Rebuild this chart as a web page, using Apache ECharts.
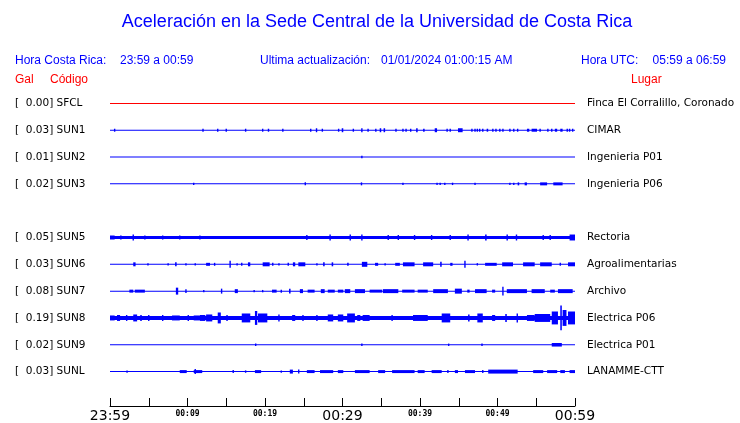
<!DOCTYPE html>
<html><head><meta charset="utf-8">
<script src="https://cdn.jsdelivr.net/npm/echarts@6/dist/echarts.min.js"></script>
<style>html,body{margin:0;padding:0;background:#fff}#c{width:740px;height:423px}</style>
</head><body><div id="c"></div>
<script>
// ---- data ----
const codes = ['SFCL','SUN1','SUN2','SUN3','','SUN5','SUN6','SUN7','SUN8','SUN9','SUNL'];
const galValues = ['0.00','0.03','0.01','0.02','','0.05','0.03','0.08','0.19','0.02','0.03'];
const places = ['Finca El Corralillo, Coronado','CIMAR','Ingenieria P01','Ingenieria P06','','Rectoria','Agroalimentarias','Archivo','Electrica P06','Electrica P01','LANAMME-CTT'];
const baseAmp = [0,0,0,0,0,1.6,0,0,2,0,0];      // background noise level (trace units)
const timeTicks = ['23:59','','00:09','','00:19','','00:29','','00:39','','00:49','','00:59'];
const majorTickLabels = ['23:59','00:29','00:59'];
// events: [startMinute, endMinute, amplitude]
const evSFCL = [];
const evSUN1 = [[0.6,0.6,1.5],[12.0,12.0,1.5],[13.9,13.9,1.5],[15.0,15.0,1.5],[17.5,17.5,1.5],[19.7,19.7,1.5],[20.4,20.5,1.5],[22.3,22.3,1.5],[25.9,25.9,1.5],[26.6,26.7,2],[27.4,27.4,1.5],[29.5,29.5,1.5],[29.9,30.1,2],[31.4,31.4,1.5],[32.5,32.5,2],[33.3,33.3,1.5],[34.3,34.3,1.5],[34.8,35.0,2],[35.3,35.5,2],[36.9,36.9,1.5],[37.8,37.8,1.5],[38.2,38.2,1.5],[38.8,38.8,1.5],[39.5,39.7,2],[40.4,40.6,1.5],[41.9,42.2,2],[43.5,43.5,1.5],[43.9,43.9,1.5],[44.9,45.5,2],[46.7,46.7,1.5],[47.1,47.1,1.5],[47.4,47.4,1.5],[47.7,47.7,1.5],[48.1,48.1,1.5],[48.6,48.8,1.5],[49.4,49.4,1.5],[49.8,49.8,1.5],[50.3,50.3,1.5],[50.7,50.7,1.5],[51.6,51.6,1.5],[52.1,52.1,1.5],[52.6,52.6,1.5],[53.8,54.1,1.5],[54.4,55.1,1.5],[55.5,55.5,1.5],[56.5,56.5,1.5],[57.0,57.0,1.5],[57.4,57.7,1.5],[58.1,58.4,1.5],[59.0,59.0,1.5],[59.3,59.3,1.5],[59.7,59.7,1.5]];
const evSUN2 = [[32.5,32.5,1.2]];
const evSUN3 = [[10.8,10.8,1.2],[25.2,25.2,1.5],[32.4,32.5,1.5],[37.8,37.8,1.2],[42.2,42.2,1.2],[42.6,42.6,1.2],[43.2,43.2,1.2],[44.2,44.2,1.2],[47.1,47.1,1.2],[51.6,51.6,1.2],[52.1,52.1,1.2],[52.6,52.8,1.5],[53.5,53.8,1.5],[55.5,56.4,1.5],[57.2,58.4,1.5]];
const evSUN5 = [[0,0.6,2],[1.3,1.5,2],[3.0,3.0,3],[4.5,4.5,2],[6.8,6.8,2],[9.0,9.0,2],[11.6,11.6,2],[25.4,25.4,2.5],[28.4,28.4,3],[31.0,31.0,3],[32.5,32.5,3],[35.9,35.9,2.5],[37.2,37.2,2.5],[39.3,39.3,2.5],[41.5,41.5,2.5],[43.9,43.9,2.5],[46.2,46.2,3],[48.4,48.6,3],[51.2,51.3,3],[52.4,52.5,3],[55.9,55.9,2.5],[56.8,56.8,2.5],[59.3,60,3]];
const evSUN6 = [[3.0,3.3,2],[4.9,4.9,1.2],[7.5,7.5,1.2],[8.4,8.6,2],[9.8,9.8,1.2],[11.0,11.0,1.2],[12.4,12.9,1.5],[13.5,13.5,1.5],[15.5,15.5,3.5],[16.4,16.4,1.2],[17.0,17.0,1.5],[17.8,18.1,2],[19.7,20.6,2],[21.0,21.0,1.5],[21.8,21.8,1.2],[23.0,23.0,1.5],[23.6,23.9,2],[24.3,25.2,2],[26.7,26.7,1.2],[27.5,27.7,2],[28.6,28.8,2],[30.6,30.8,1.5],[32.5,33.2,2.5],[34.2,34.6,1.5],[35.5,35.5,1.2],[36.8,37.4,1.5],[37.8,39.3,2],[40.4,41.7,2],[42.6,42.8,2.5],[43.9,44.2,1.5],[45.8,45.8,3.5],[47.4,47.4,1.2],[48.4,49.9,1.5],[50.6,52.0,2],[53.3,54.8,2],[55.5,57.0,2],[58.1,58.1,1.5],[59.1,60,2]];
const evSUN7 = [[2.5,3.0,1.5],[3.2,4.5,1.5],[8.5,8.8,3.5],[9.8,9.8,2],[12.1,12.1,1.2],[14.4,14.4,2.5],[16.1,16.5,2],[18.6,18.6,1.2],[19.7,19.7,1.2],[20.9,21.5,1.5],[22.1,22.1,1.5],[23.1,23.3,2.5],[24.5,24.9,2],[25.5,26.4,1.5],[27.2,27.7,2],[28.1,29.0,1.5],[29.4,30.1,1.5],[30.3,31.0,2],[31.6,32.9,2],[33.5,35.1,1.5],[35.2,37.2,2],[37.7,39.3,1.5],[39.7,41.0,1.5],[41.7,43.6,2],[44.5,45.4,2.5],[46.1,46.4,1.5],[47.1,48.6,2],[49.3,49.7,1.5],[50.7,50.7,4.5],[51.2,53.8,2],[54.4,56.1,2],[56.8,57.4,1.5],[57.8,59.7,2]];
const evSUN8 = [[0,0.6,2.5],[0.9,1.3,3],[2.1,2.2,3],[3.0,3.5,3.5],[3.9,4.1,3],[5.0,5.0,3],[6.8,6.8,3],[8.0,9.0,2.5],[10.1,10.1,3],[10.8,11.6,2.5],[11.6,12.3,3],[12.4,13.2,3.5],[13.9,14.3,5.5],[15.1,15.1,3],[17.0,18.1,4.5],[18.7,19.0,7],[19.1,20.3,4.5],[21.8,21.8,3.5],[23.5,23.9,3],[24.9,24.9,3],[26.7,26.7,3],[28.1,28.8,3.5],[29.4,30.1,3.5],[30.6,31.6,4.5],[31.9,32.3,3],[32.6,33.5,3],[36.4,36.4,3],[39.1,41.0,3],[42.8,43.9,4.5],[46.2,46.4,3.5],[47.4,48.1,4.5],[49.3,49.7,3],[51.0,51.2,4],[52.5,52.6,4.5],[53.8,54.8,3],[54.8,56.8,4],[57.0,57.8,6.5],[58.1,58.3,12.5],[58.4,58.9,8],[59.1,60,6.5]];
const evSUN9 = [[18.8,18.8,1.2],[32.5,32.5,1.2],[43.7,43.7,1.2],[48.0,48.0,1.2],[57.0,58.3,1.8]];
const evSUNL = [[2.2,2.2,1.2],[9.0,9.9,1.5],[10.8,11.9,1.5],[11.0,11.0,2.5],[15.9,15.9,1.5],[17.5,17.5,1.2],[18.7,19.5,1.5],[22.1,22.1,1.2],[23.2,23.6,2],[24.3,24.4,2],[25.4,26.4,1.5],[27.1,28.8,1.5],[29.4,30.1,1.5],[31.6,33.5,1.5],[34.6,35.5,1.5],[36.4,39.3,1.5],[39.7,40.6,1.5],[41.5,42.8,1.5],[43.6,43.6,1.5],[44.5,44.9,1.5],[45.8,47.1,1.5],[48.1,48.1,1.5],[48.8,52.6,2],[54.6,55.9,1.5],[56.4,57.7,1.5],[58.1,58.7,1.5],[59.3,60,1.5]];
const traceEvents = [evSFCL, evSUN1, evSUN2, evSUN3, null, evSUN5, evSUN6, evSUN7, evSUN8, evSUN9, evSUNL];

// ---- chart ----
const BLUE = '#0000ff', RED = '#ff0000';
const AMP = 1 / 27; // rows per trace unit
const chart = echarts.init(document.getElementById('c'), null, {renderer: 'canvas'});

function makeRender(color) {
  return function (params, api) {
    const s = api.value(0), e = api.value(1), a = api.value(2), r = api.value(3);
    const p1 = api.coord([s, r + 0.5]), p2 = api.coord([e, r + 0.5]);
    const h = Math.max(api.size([0, a * AMP])[1], 0.5);
    let x = p1[0], w = p2[0] - p1[0];
    if (w < 1.4) { x = (p1[0] + p2[0]) / 2 - 0.7; w = 1.4; }
    return {type: 'rect', shape: {x: x, y: p1[1] - h, width: w, height: 2 * h}, style: {fill: color}};
  };
}

const series = [];
traceEvents.forEach(function (ev, row) {
  if (!ev) return;
  const color = row === 0 ? RED : BLUE;
  const data = [[0, 60, baseAmp[row], row]].concat(ev.map(function (d) { return [d[0], d[1], d[2], row]; }));
  series.push({type: 'custom', xAxisIndex: 0, yAxisIndex: 0, renderItem: makeRender(color), data: data, silent: true, animation: false, clip: false});
});

const hdr = '12px "Liberation Sans", Arial, sans-serif';
function txt(t, x, y, color, font, align) {
  return {type: 'text', x: x, y: y, silent: true, style: {text: t, fill: color, font: font, textAlign: align || 'left', textVerticalAlign: 'middle'}};
}

chart.setOption({
  animation: false,
  backgroundColor: '#fff',
  grid: {left: 110, top: 90, width: 465, height: 297, containLabel: false},
  xAxis: {
    type: 'value', min: 0, max: 60, interval: 5, position: 'bottom', offset: 21,
    axisLine: {show: true, onZero: false, lineStyle: {color: '#000', width: 1}},
    axisTick: {show: true, inside: true, length: 8, lineStyle: {color: '#000', width: 1}},
    splitLine: {show: false},
    axisLabel: {
      show: true, margin: 2, showMinLabel: true, showMaxLabel: true, hideOverlap: false,
      formatter: function (v) {
        const t = timeTicks[Math.round(v / 5)];
        if (!t) return '';
        return majorTickLabels.indexOf(t) >= 0 ? '{big|' + t + '}' : '{small|' + t + '}';
      },
      rich: {
        big: {fontSize: 14, fontFamily: 'DejaVu Sans', color: '#000', padding: [1, 0, 0, 0]},
        small: {fontSize: 8, fontFamily: 'DejaVu Sans Mono', fontWeight: 'bold', color: '#000', padding: [2, 0, 0, 0]}
      }
    }
  },
  yAxis: [
    {type: 'value', min: 0, max: 11, inverse: true, show: false},
    {type: 'category', data: codes, inverse: true, position: 'left',
      axisLine: {show: false}, axisTick: {show: false}, splitLine: {show: false},
      axisLabel: {margin: 95, align: 'left', color: '#000', fontSize: 10.5, fontFamily: 'DejaVu Sans', padding: [2, 0, 0, 0],
        formatter: function (v, i) { return codes[i] ? '[  ' + galValues[i] + '] ' + codes[i] : ''; }}},
    {type: 'category', data: places, inverse: true, position: 'right',
      axisLine: {show: false}, axisTick: {show: false}, splitLine: {show: false},
      axisLabel: {margin: 12, align: 'left', color: '#000', fontSize: 10.5, fontFamily: 'DejaVu Sans', padding: [2, 0, 0, 0]}}
  ],
  series: series,
  graphic: [
    txt('Aceleración en la Sede Central de la Universidad de Costa Rica', 377, 22, BLUE, '18px "Liberation Sans", Arial, sans-serif', 'center'),
    txt('Hora Costa Rica:', 15, 61, BLUE, hdr),
    txt('23:59 a 00:59', 120, 61, BLUE, hdr),
    txt('Ultima actualización:', 260, 61, BLUE, hdr),
    txt('01/01/2024 01:00:15 AM', 381, 61, BLUE, hdr),
    txt('Hora UTC:', 581, 61, BLUE, hdr),
    txt('05:59 a 06:59', 726, 61, BLUE, hdr, 'right'),
    txt('Gal', 15, 80, RED, hdr),
    txt('Código', 50, 80, RED, hdr),
    txt('Lugar', 631, 80, RED, hdr)
  ]
});
</script></body></html>
